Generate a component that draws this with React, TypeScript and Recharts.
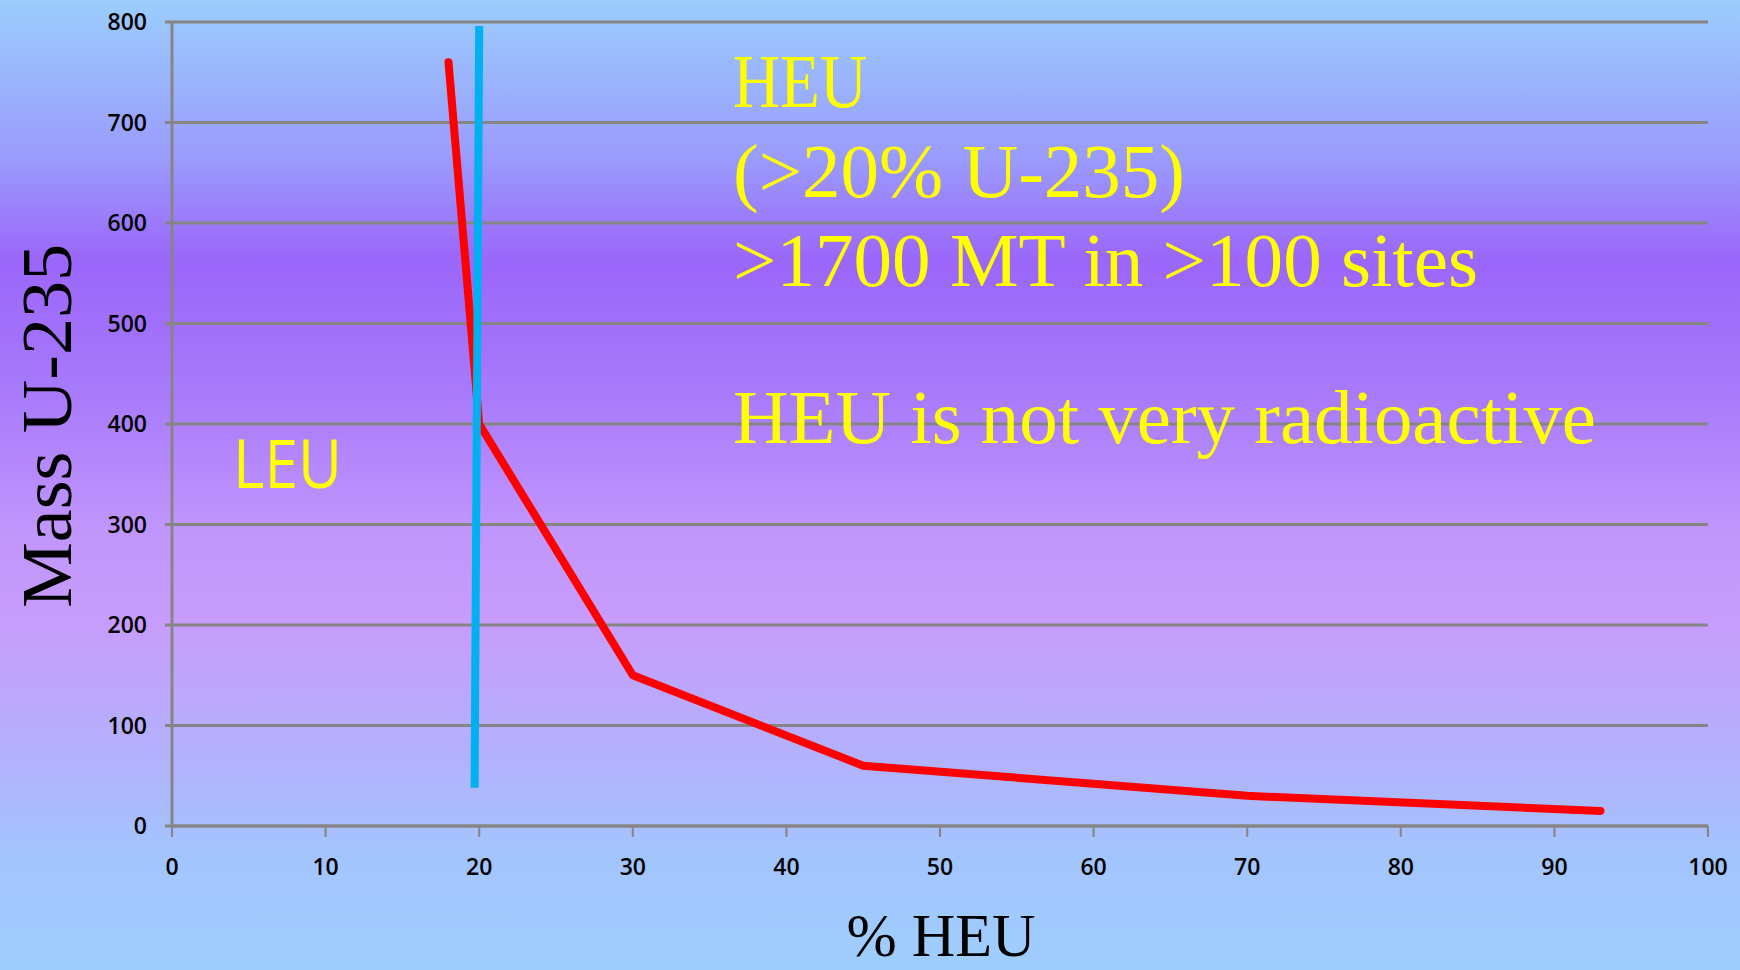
import React from "react";
import { LineChart, Line, XAxis, YAxis, CartesianGrid } from "recharts";

// Data
const heuPercent = [18, 20, 30, 45, 70, 93];
const massU235 = [760, 400, 150, 60, 30, 15];
const dividerPercent = [19.7, 20];
const dividerMass = [38, 796];
const xTicks = [0, 10, 20, 30, 40, 50, 60, 70, 80, 90, 100];
const yTicks = [0, 100, 200, 300, 400, 500, 600, 700, 800];
const xTitle = "% HEU";
const yTitle = "Mass U-235";
const heuLines = ["HEU", "(>20% U-235)", ">1700 MT in >100 sites", "", "HEU is not very radioactive"];
const leuText = "LEU";

const curve = heuPercent.map((x, i) => ({ x, y: massU235[i] }));
const divider = dividerPercent.map((x, i) => ({ x, y: dividerMass[i] }));

const W = 1740;
const H = 970;
const GRAY = "#858585";
const YELLOW = "#FFFF00";

const tickStyle = { fontFamily: "'Open Sans', sans-serif", fontSize: 23, fontWeight: 600, fill: "#000" };

export default function App() {
  return (
    <div
      style={{
        position: "relative",
        width: W,
        height: H,
        overflow: "hidden",
        background:
          "linear-gradient(to bottom, #9BCDFD 0%, #9A9CFC 16%, #9B66FA 27%, #A779FB 40%, #C196FC 55%, #C79CFC 64%, #B3B1FC 78%, #A3C4FD 88%, #9ECEFD 100%)",
      }}
    >
      <style>{`body{margin:0}`}</style>
      <LineChart width={W} height={H} margin={{ top: 22, right: 32, bottom: 0, left: 0 }}>
        <CartesianGrid vertical={false} stroke={GRAY} strokeWidth={3} horizontalValues={yTicks} />
        <XAxis
          type="number"
          dataKey="x"
          domain={[0, 100]}
          ticks={xTicks}
          interval={0}
          height={144}
          axisLine={{ stroke: GRAY, strokeWidth: 3 }}
          tickLine={{ stroke: GRAY, strokeWidth: 2 }}
          tickSize={11}
          tickMargin={22}
          tick={tickStyle}
          allowDataOverflow
          label={{
            content: (props: any) => {
              const vb = props.viewBox || { x: 172, y: 826, width: 1536, height: 144 };
              return (
                <text
                  x={vb.x + vb.width / 2 + 1}
                  y={vb.y + 130}
                  textAnchor="middle"
                  fontFamily="'Liberation Serif', serif"
                  fontSize={62}
                  fill="#000"
                  textLength={189}
                  lengthAdjust="spacingAndGlyphs"
                >
                  {xTitle}
                </text>
              );
            },
          }}
        />
        <YAxis
          type="number"
          dataKey="y"
          domain={[0, 800]}
          ticks={yTicks}
          interval={0}
          width={172}
          axisLine={{ stroke: GRAY, strokeWidth: 3 }}
          tickLine={{ stroke: GRAY, strokeWidth: 3 }}
          tickSize={7}
          tickMargin={18}
          tick={tickStyle}
          allowDataOverflow
          label={{
            content: (props: any) => {
              const vb = props.viewBox || { x: 0, y: 22, width: 172, height: 804 };
              const cx = vb.x + 71;
              const cy = vb.y + vb.height / 2 + 2;
              return (
                <text
                  x={cx}
                  y={cy}
                  transform={`rotate(-90, ${cx}, ${cy})`}
                  textAnchor="middle"
                  fontFamily="'Liberation Serif', serif"
                  fontSize={72}
                  fill="#000"
                  textLength={364}
                  lengthAdjust="spacingAndGlyphs"
                >
                  {yTitle}
                </text>
              );
            },
          }}
        />
        <Line
          data={curve}
          dataKey="y"
          type="linear"
          stroke="#FF0000"
          strokeWidth={8}
          strokeLinecap="round"
          strokeLinejoin="round"
          dot={false}
          activeDot={false}
          isAnimationActive={false}
        />
        <Line
          data={divider}
          dataKey="y"
          type="linear"
          stroke="#00B0F0"
          strokeWidth={8}
          strokeLinecap="butt"
          dot={false}
          activeDot={false}
          isAnimationActive={false}
        />
      </LineChart>
      <svg
        width={W}
        height={H}
        style={{ position: "absolute", left: 0, top: 0, pointerEvents: "none" }}
      >
        <g fontFamily="'Liberation Serif', serif" fontSize={76} fill={YELLOW}>
          <text x={733} y={107} textLength={134} lengthAdjust="spacingAndGlyphs">{heuLines[0]}</text>
          <text x={733} y={197} textLength={452} lengthAdjust="spacingAndGlyphs">{heuLines[1]}</text>
          <text x={733} y={286} textLength={745} lengthAdjust="spacingAndGlyphs">{heuLines[2]}</text>
          <text x={733} y={443} textLength={863} lengthAdjust="spacingAndGlyphs">{heuLines[4]}</text>
        </g>
        <text
          x={233}
          y={488}
          fontFamily="'Open Sans', sans-serif"
          fontSize={68}
          fill={YELLOW}
          textLength={109}
          lengthAdjust="spacingAndGlyphs"
        >
          {leuText}
        </text>
      </svg>
    </div>
  );
}
